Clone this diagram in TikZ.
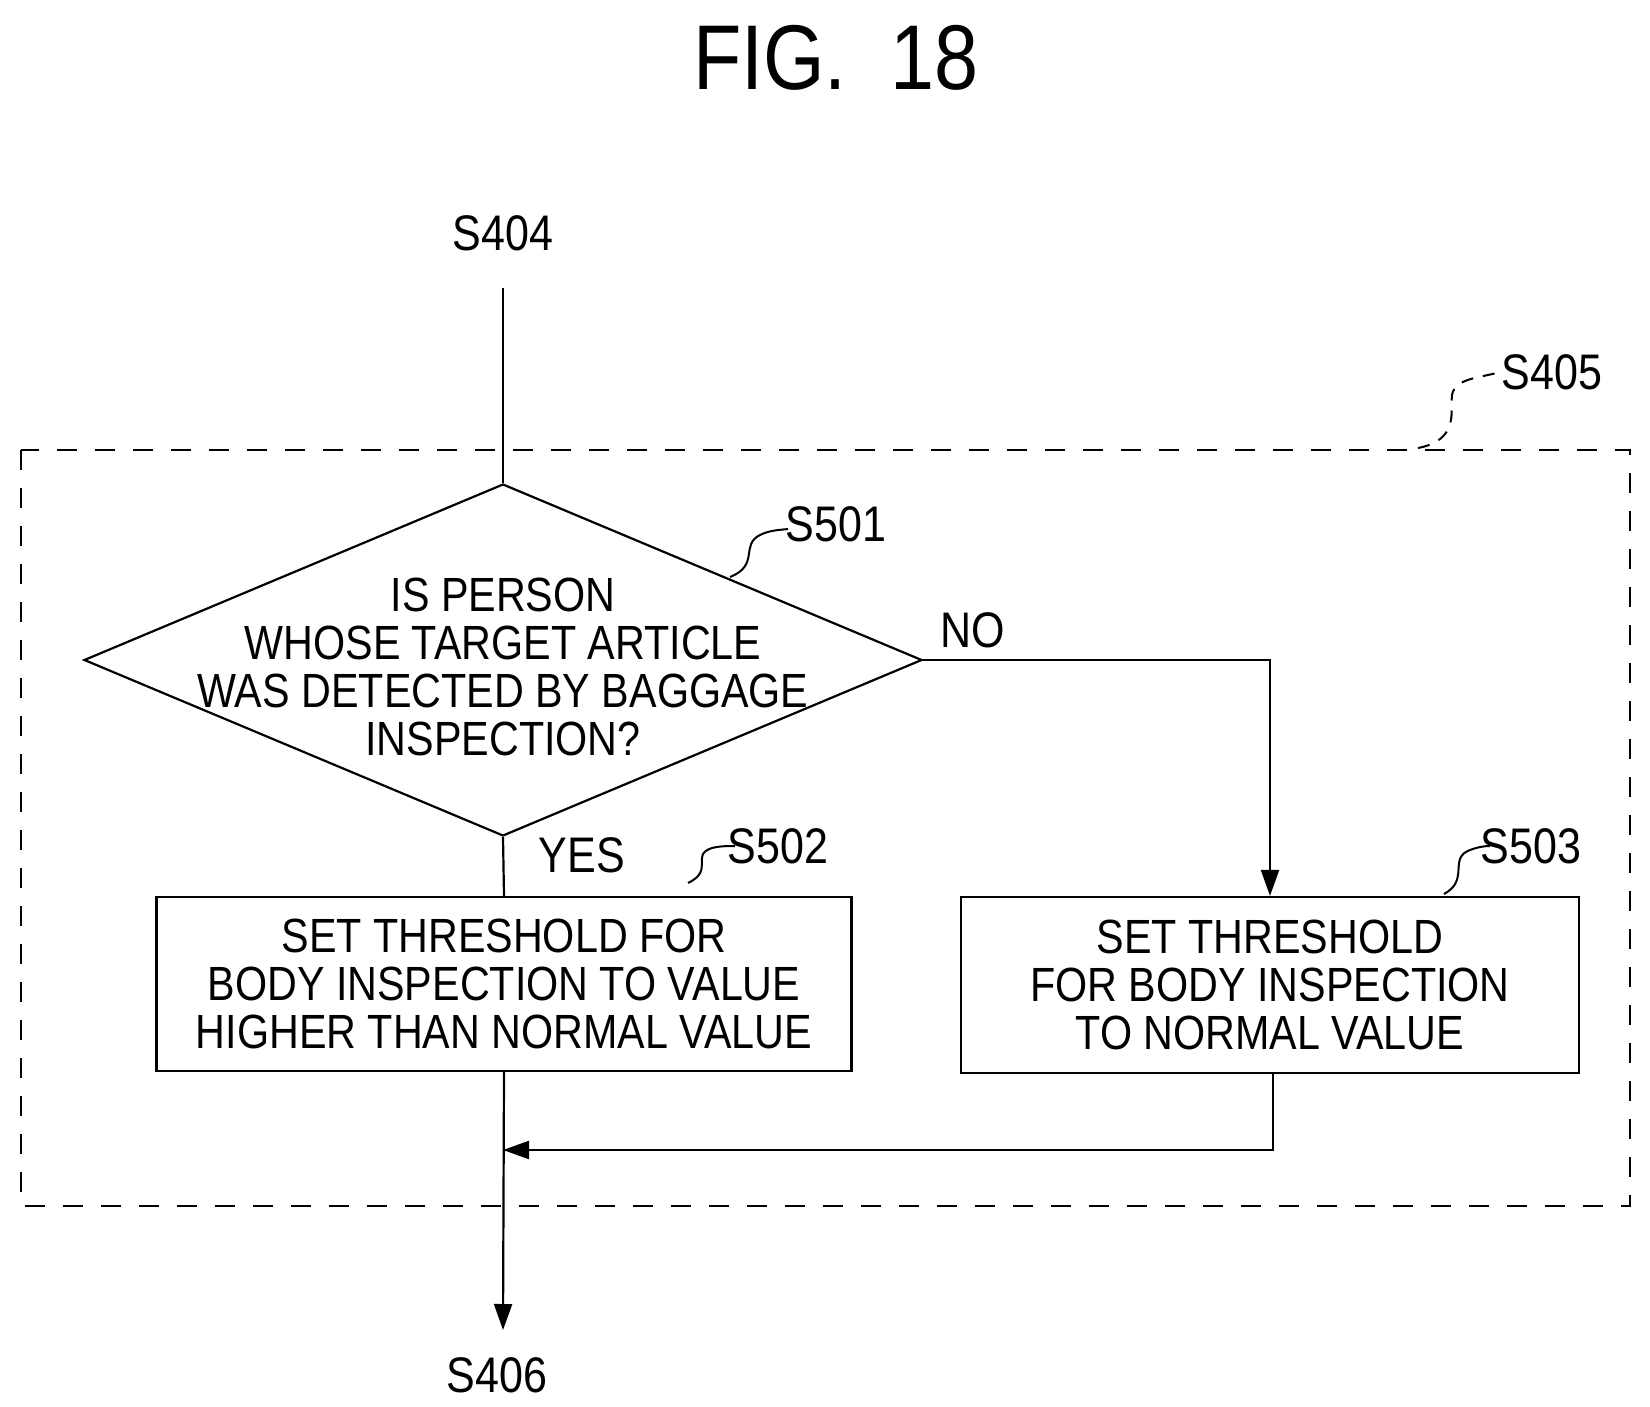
\documentclass[tikz,border=0pt]{standalone}
\usepackage{fontspec}
\setmainfont{Liberation Sans}[FakeStretch=0.86]
\usetikzlibrary{shapes.geometric,arrows.meta}
\begin{document}
\begin{tikzpicture}[x=1pt,y=-1pt,
  lbl/.style={font=\fontsize{50}{50}\selectfont,inner sep=0},
  txt/.style={font=\fontsize{48}{48}\selectfont,align=center,inner sep=0},
  ln/.style={line width=2.2pt},
  arr/.style={ln,-{Triangle[length=26pt,width=18pt]}},
  lead/.style={line width=2pt}]
\useasboundingbox (0,0) rectangle (1650,1407);
\node[font=\fontsize{92}{92}\selectfont,inner sep=0] (title) at (836,58) {FIG.\ \ 18};
\node[lbl] (s404) at (503,233) {S404};
\coordinate (top) at (503,288);
\draw[ln,dash pattern=on 20pt off 18pt] (21,450) rectangle (1630,1206);
\node[lbl] (s405) at (1552,372) {S405};
\draw[lead,dash pattern=on 12pt off 10pt] (1418,448) .. controls (1460,440) and (1450,410) .. (1452,395) .. controls (1455,378) and (1480,378) .. (1500,372);
\node[draw,ln,diamond,minimum width=838pt,minimum height=352pt,inner sep=0,aspect=2.38] (d) at (503,660) {};
\node[txt] at (503,667) {IS PERSON\\WHOSE TARGET ARTICLE\\WAS DETECTED BY BAGGAGE\\INSPECTION?};
\node[lbl] (s501) at (836,524) {S501};
\draw[lead] (730,577) .. controls (760,565) and (740,545) .. (760,535) .. controls (770,530) and (780,530) .. (788,529);
\node[lbl] (no) at (973,630) {NO};
\node[lbl] (yes) at (582,855) {YES};
\node[draw,ln,minimum width=695pt,minimum height=174pt,txt] (b2) at (504,984) {SET THRESHOLD FOR\\BODY INSPECTION TO VALUE\\HIGHER THAN NORMAL VALUE};
\node[draw,ln,minimum width=618pt,minimum height=176pt,txt] (b3) at (1270,985) {SET THRESHOLD\\FOR BODY INSPECTION\\TO NORMAL VALUE};
\node[lbl] (s502) at (778,846) {S502};
\draw[lead] (688,883) .. controls (715,870) and (690,855) .. (712,848) .. controls (720,846) and (728,846) .. (735,846);
\node[lbl] (s503) at (1531,846) {S503};
\draw[lead] (1444,894) .. controls (1470,880) and (1448,858) .. (1470,850) .. controls (1478,847) and (1484,846) .. (1490,846);
\draw[ln] (top) -- (d.north);
\draw[ln] (d.south) -- (b2.north);
\draw[arr] (d.east) -| (b3.north);
\coordinate (j) at (503,1150);
\draw[arr] (b3.south -| 1273,0) |- (j);
\node[lbl] (s406) at (497,1375) {S406};
\draw[arr] (b2.south) -- (503,1330);
\end{tikzpicture}
\end{document}
